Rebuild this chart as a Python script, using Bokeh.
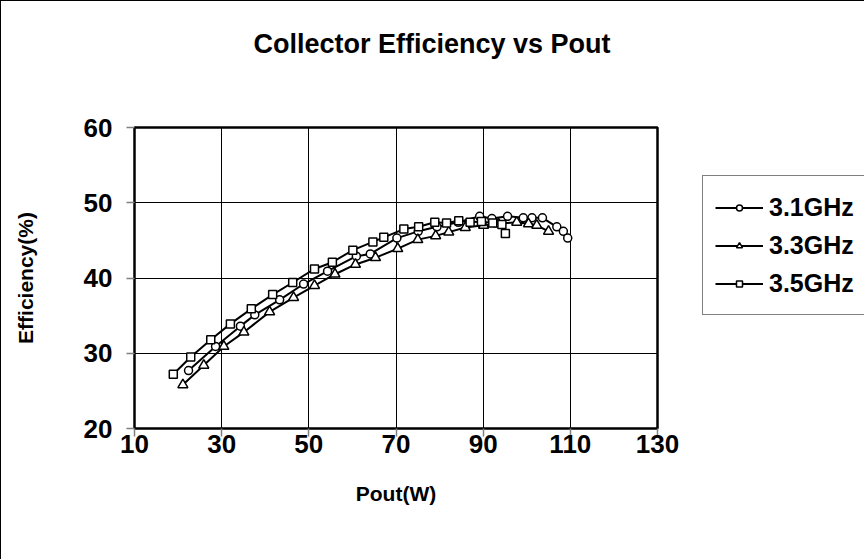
from bokeh.plotting import figure
from bokeh.models import Range1d, FixedTicker, Legend, LegendItem, Title
from bokeh.embed import file_html
from bokeh.resources import INLINE

# ---- data ----
x_31 = [22.4, 28.6, 34.3, 37.6, 43.3, 48.8, 54.3, 60.9, 64.1, 70.2, 75.1, 79.4, 84.3,
        89.2, 92.0, 95.6, 99.2, 101.2, 103.6, 106.9, 108.4, 109.4]
y_31 = [27.7, 30.9, 33.6, 35.1, 37.1, 39.2, 40.9, 42.9, 43.2, 45.3, 46.2, 46.8, 47.4,
        48.2, 47.9, 48.2, 48.0, 48.0, 48.0, 46.8, 46.2, 45.3]

x_33 = [21.1, 25.9, 30.5, 35.1, 41.0, 46.5, 51.3, 56.0, 60.7, 65.3, 70.4, 75.0, 79.1,
        82.1, 85.9, 90.1, 93.5, 97.7, 100.4, 102.3, 105.0]
y_33 = [25.8, 28.4, 30.9, 32.8, 35.5, 37.4, 39.0, 40.5, 41.8, 42.7, 43.9, 45.1, 45.6,
        46.1, 46.7, 47.0, 47.2, 47.4, 47.2, 47.0, 46.2]

x_35 = [18.9, 22.9, 27.5, 32.0, 36.8, 41.7, 46.3, 51.3, 55.4, 60.1, 64.7, 67.2, 71.8,
        75.2, 78.9, 81.6, 84.4, 87.0, 89.6, 92.2, 94.3, 95.1]
y_35 = [27.2, 29.5, 31.8, 33.9, 35.9, 37.8, 39.4, 41.2, 42.1, 43.7, 44.8, 45.4, 46.5,
        46.8, 47.4, 47.3, 47.6, 47.4, 47.5, 47.3, 47.1, 45.9]

x_ticks = [10, 30, 50, 70, 90, 110, 130]
y_ticks = [20, 30, 40, 50, 60]
series_labels = ["3.1GHz", "3.3GHz", "3.5GHz"]
title_text = "Collector Efficiency vs Pout"

FONT = "Liberation Sans"

p = figure(width=863, height=558, output_backend="svg", toolbar_location=None,
           x_range=Range1d(10, 130), y_range=Range1d(20, 60),
           min_border_left=133, min_border_top=126, min_border_right=207,
           min_border_bottom=131, frame_width=523, frame_height=301)
p.styles = {"border-left": "1px solid black", "border-top": "1px solid black"}
p.background_fill_color = "white"
p.border_fill_color = "white"
p.outline_line_color = "black"
p.outline_line_width = 2.5
p.title_location = None

# spacer (nearest the frame) and the title above it
spacer = Title(text=" ", text_font=FONT, text_font_size="20px", standoff=45)
main_title = Title(text=title_text, align="left", text_font=FONT,
                   text_font_size="27px", text_font_style="bold",
                   text_color="black", offset=119, standoff=0)
p.add_layout(spacer, "above")
p.add_layout(main_title, "above")

# grid
for g in (p.xgrid, p.ygrid):
    g.grid_line_color = "black"
    g.grid_line_width = 1
    g.grid_line_alpha = 1.0
p.xgrid.ticker = FixedTicker(ticks=x_ticks)
p.ygrid.ticker = FixedTicker(ticks=y_ticks)

# axes
p.xaxis.ticker = FixedTicker(ticks=x_ticks)
p.yaxis.ticker = FixedTicker(ticks=y_ticks)
for ax in (p.xaxis[0], p.yaxis[0]):
    ax.axis_line_color = None
    ax.major_tick_line_color = "#808080"
    ax.major_tick_line_width = 1.5
    ax.major_tick_out = 8
    ax.major_tick_in = 0
    ax.minor_tick_line_color = None
    ax.major_label_text_font = FONT
    ax.major_label_text_font_style = "bold"
    ax.major_label_text_font_size = "26px"
    ax.major_label_text_color = "black"
    ax.axis_label_text_font = FONT
    ax.axis_label_text_font_style = "bold"
    ax.axis_label_text_font_size = "21px"
    ax.axis_label_text_color = "black"
p.xaxis.axis_label = "Pout(W)"
p.yaxis.axis_label = "Efficiency(%)"
p.xaxis.major_label_standoff = -2
p.yaxis.major_label_standoff = 14
p.xaxis.axis_label_standoff = 26
p.yaxis.axis_label_standoff = 44

lw = 2
l1 = p.line(x_31, y_31, line_color="black", line_width=lw)
s1 = p.scatter(x_31, y_31, marker="circle", size=8, fill_color="white",
               line_color="black", line_width=1.5)
l2 = p.line(x_33, y_33, line_color="black", line_width=lw)
s2 = p.scatter(x_33, y_33, marker="triangle", size=10, fill_color="white",
               line_color="black", line_width=1.5)
l3 = p.line(x_35, y_35, line_color="black", line_width=lw)
s3 = p.scatter(x_35, y_35, marker="square", size=8, fill_color="white",
               line_color="black", line_width=1.5)

legend = Legend(items=[LegendItem(label=series_labels[0], renderers=[l1, s1]),
                       LegendItem(label=series_labels[1], renderers=[l2, s2]),
                       LegendItem(label=series_labels[2], renderers=[l3, s3])],
                location=(45, 113), orientation="vertical")
legend.border_line_color = "black"
legend.border_line_width = 1.5
legend.background_fill_color = "white"
legend.label_text_font = FONT
legend.label_text_font_style = "bold"
legend.label_text_font_size = "25px"
legend.label_text_color = "black"
legend.glyph_width = 48
legend.glyph_height = 15
legend.label_standoff = 6
legend.label_height = 38
legend.spacing = 0
legend.padding = 12
legend.margin = 0
p.add_layout(legend, "right")

open("out.html", "w").write(file_html(p, INLINE))
